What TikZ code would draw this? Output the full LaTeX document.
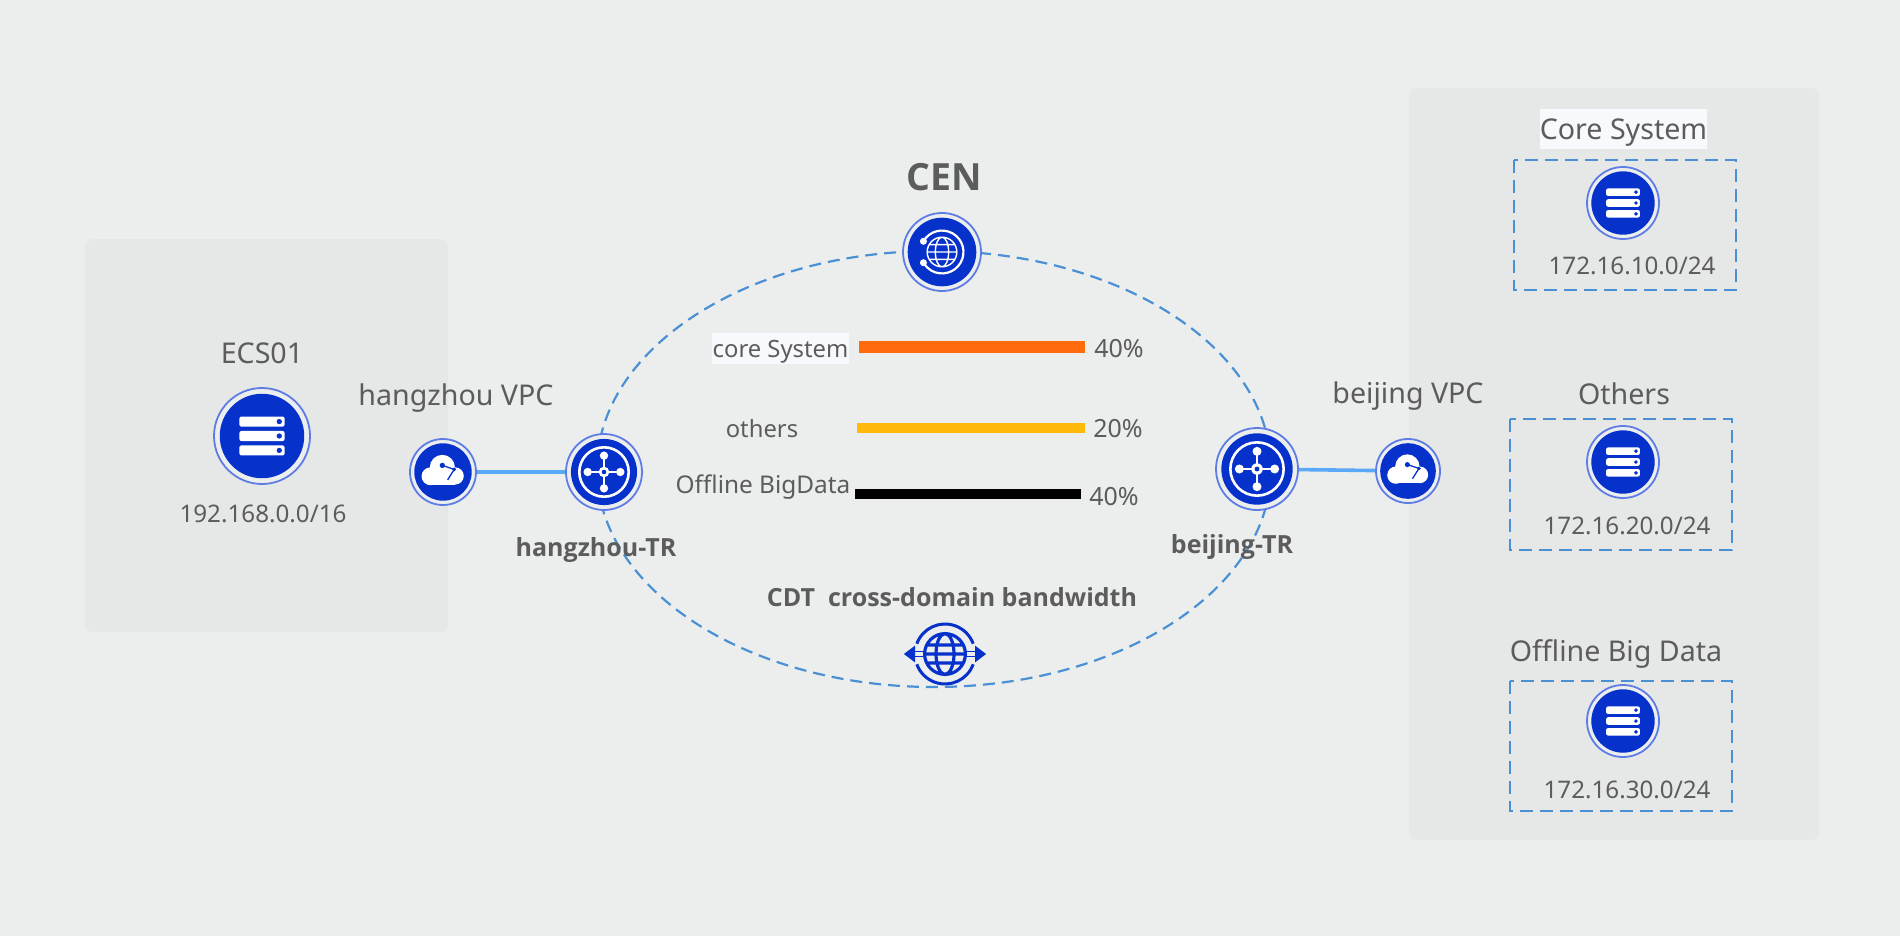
\documentclass[tikz,border=0pt]{standalone}
\usepackage{fontspec}
\setmainfont{Noto Sans}
\newfontfamily\heavyfont{Open Sans}
\definecolor{pagegrey}{HTML}{ECEEEE}
\definecolor{panelgrey}{HTML}{E6E7E7}
\definecolor{iconblue}{HTML}{0731CB}
\definecolor{ringblue}{HTML}{5F7CE6}
\definecolor{dashblue}{HTML}{4A90D4}
\definecolor{linkblue}{HTML}{5AA8F8}
\definecolor{labelgrey}{HTML}{5C5C5C}
\definecolor{labelwhite}{HTML}{F8F9FD}
\definecolor{barorange}{HTML}{FF6A0D}
\definecolor{baryellow}{HTML}{FFB90A}
\newcommand{\fsize}[1]{\fontsize{#1}{#1}\selectfont}
\tikzset{
  panel/.style={fill=panelgrey, rounded corners=8pt},
  ringdisc/.style={circle, draw=ringblue, line width=1.8pt, fill=pagegrey, inner sep=0pt, minimum size=#1},
  lab/.style={text=labelgrey, inner sep=0pt, font=\fsize{28.6}},
  smalllab/.style={text=labelgrey, inner sep=0pt, font=\fsize{24.2}},
  boldlab/.style={text=labelgrey, inner sep=0pt, font=\heavyfont\fsize{25}\bfseries},
  barbox/.style={inner sep=0pt, minimum width=#1},
  dashbox/.style={draw=dashblue, line width=2.2pt, dash pattern=on 13pt off 7pt},
  link/.style={draw=linkblue, line width=3.6pt},
  serverglyph/.pic={
    \fill[iconblue] (0,0) circle (0.88);
    \foreach \yy in {-0.3,0,0.3} {
      \fill[white, rounded corners=2pt] (-0.47,\yy-0.105) rectangle (0.47,\yy+0.105);
      \fill[iconblue] (0.36,\yy) circle (0.055);
    }
  },
  routerglyph/.pic={
    \fill[iconblue] (0,0) circle (0.87);
    \draw[white, line width=2.6pt] (0,0) circle (0.65);
    \draw[white, line width=2.4pt] (-0.43,0) -- (0.43,0) (0,-0.43) -- (0,0.43);
    \foreach \aa in {0,90,180,270} { \fill[white] (\aa:0.43) circle (0.11); }
    \fill[white] (0,0) circle (0.14);
    \fill[iconblue] (0,0) circle (0.06);
  },
  cloudglyph/.pic={
    \fill[iconblue] (0,0) circle (0.87);
    \fill[white] (-0.38,0.13) circle (0.27) (-0.02,-0.14) circle (0.38) (0.37,0.12) circle (0.26);
    \fill[white] (-0.38,0.1) rectangle (0.37,0.38);
    \draw[iconblue, line width=1.3pt] (-0.02,-0.2) -- (0.34,-0.08) -- (0.14,0.24);
    \fill[iconblue] (-0.02,-0.2) circle (0.08) (0.34,-0.08) circle (0.06);
  },
  cenglyph/.pic={
    \fill[iconblue] (0,0) circle (0.88);
    \draw[white, line width=2.2pt] (210:0.55) arc (210:510:0.55);
    \fill[white] (210:0.55) circle (0.09) (150:0.55) circle (0.09);
    \draw[white, line width=1.4pt] (0,0) circle (0.38) (0,0) ellipse (0.17 and 0.38)
      (-0.38,0) -- (0.38,0) (-0.33,-0.19) -- (0.33,-0.19) (-0.33,0.19) -- (0.33,0.19);
  },
  cdtglyph/.pic={
    \draw[iconblue, line width=3.2pt] (0,0) circle (0.68) (0,0) ellipse (0.3 and 0.68)
      (-0.68,0) -- (0.68,0) (-0.6,-0.3) -- (0.6,-0.3) (-0.6,0.3) -- (0.6,0.3);
    \draw[iconblue, line width=3pt] (200:1) arc (200:340:1) (20:1) arc (20:160:1);
    \fill[iconblue] (-1.37,0) -- (-1,-0.28) -- (-1,0.28) -- cycle
      (1.37,0) -- (1,-0.28) -- (1,0.28) -- cycle;
    \draw[iconblue, line width=1.6pt] (-1.2,-0.08) -- (-0.7,-0.08) (-1.2,0.08) -- (-0.7,0.08)
      (0.7,-0.08) -- (1.2,-0.08) (0.7,0.08) -- (1.2,0.08);
  },
}
\begin{document}
\begin{tikzpicture}[x=1pt, y=-1pt]
\useasboundingbox (0,0) rectangle (1900,936);
\fill[pagegrey] (0,0) rectangle (1900,936);
% vpc panels
\fill[panel] (85,239) rectangle (448,632);
\fill[panel] (1409,88) rectangle (1819,840);
% cen ring
\draw[dashblue, line width=2.2pt, dash pattern=on 12pt off 7pt] (934,469) ellipse [x radius=337, y radius=218];
% hangzhou side
\node[ringdisc=96] (ecs) at (262,436) {};
\pic[scale=48] at (ecs) {serverglyph};
\node[lab] (ecslabel) at (262,353) {ECS01};
\node[smalllab] (ecsnet) at (263,514) {192.168.0.0/16};
\node[ringdisc=66] (hzvpc) at (443,472) {};
\pic[scale=33] at (hzvpc) {cloudglyph};
\node[lab] (hzvpclabel) at (456,398) {hangzhou VPC};
\node[ringdisc=76] (hztr) at (604,472) {};
\pic[scale=38] at (hztr) {routerglyph};
\node[boldlab] (hztrlabel) at (596,550) {hangzhou-TR};
\draw[link] (hzvpc) -- (hztr);
% cen
\node[ringdisc=78] (cen) at (942,252) {};
\pic[scale=39] at (cen) {cenglyph};
\node[text=labelgrey, inner sep=0pt, font=\heavyfont\fsize{37.5}\bfseries] (cenlabel) at (944,177) {CEN};
% bandwidth shares
\node[lab, font=\fsize{23.8}, fill=labelwhite, minimum width=137, minimum height=31, text depth=0pt] (corelabel) at (780.5,348.5) {core System};
\node[barbox=226, minimum height=12, fill=barorange] (corebar) at (972,347) {};
\node[lab, font=\fsize{25}] (corepct) at (1119,349) {40\%};
\node[lab, font=\fsize{23.8}] (otherlabel) at (762,429) {others};
\node[barbox=228, minimum height=10, fill=baryellow] (otherbar) at (971,428) {};
\node[lab, font=\fsize{25}] (otherpct) at (1118,429) {20\%};
\node[lab, font=\fsize{24.4}] (offlabel) at (763,487) {Offline BigData};
\node[barbox=226, minimum height=10, fill=black] (offbar) at (968,494) {};
\node[lab, font=\fsize{25}] (offpct) at (1114,497) {40\%};
% cdt
\node[boldlab] (cdtlabel) at (952,597) {CDT\ \ cross-domain bandwidth};
\node[inner sep=0pt, minimum size=60, circle] (cdt) at (945,654) {};
\pic[scale=30] at (cdt) {cdtglyph};
% beijing side
\node[ringdisc=82] (bjtr) at (1257,469) {};
\pic[scale=41] at (bjtr) {routerglyph};
\node[boldlab] (bjtrlabel) at (1232,547) {beijing-TR};
\node[ringdisc=64] (bjvpc) at (1408,471) {};
\pic[scale=32] at (bjvpc) {cloudglyph};
\node[lab] (bjvpclabel) at (1408,396) {beijing VPC};
\draw[link] (bjtr) -- (bjvpc);
% subnets
\node[lab, fill=labelwhite, minimum width=167, minimum height=40, text depth=0pt] (corename) at (1623.5,129) {Core System};
\draw[dashbox] (1514,160) rectangle (1736,290);
\node[ringdisc=72] (coresrv) at (1623,203) {};
\pic[scale=36] at (coresrv) {serverglyph};
\node[smalllab] (corenet) at (1632,266) {172.16.10.0/24};
\node[lab] (othername) at (1624,394) {Others};
\draw[dashbox] (1510,419) rectangle (1732,550);
\node[ringdisc=72] (othersrv) at (1623,462) {};
\pic[scale=36] at (othersrv) {serverglyph};
\node[smalllab] (othernet) at (1627,526) {172.16.20.0/24};
\node[lab] (offname) at (1616,654) {Offline Big Data};
\draw[dashbox] (1510,681) rectangle (1732,811);
\node[ringdisc=72] (offsrv) at (1623,721) {};
\pic[scale=36] at (offsrv) {serverglyph};
\node[smalllab] (offnet) at (1627,790) {172.16.30.0/24};
\end{tikzpicture}
\end{document}
